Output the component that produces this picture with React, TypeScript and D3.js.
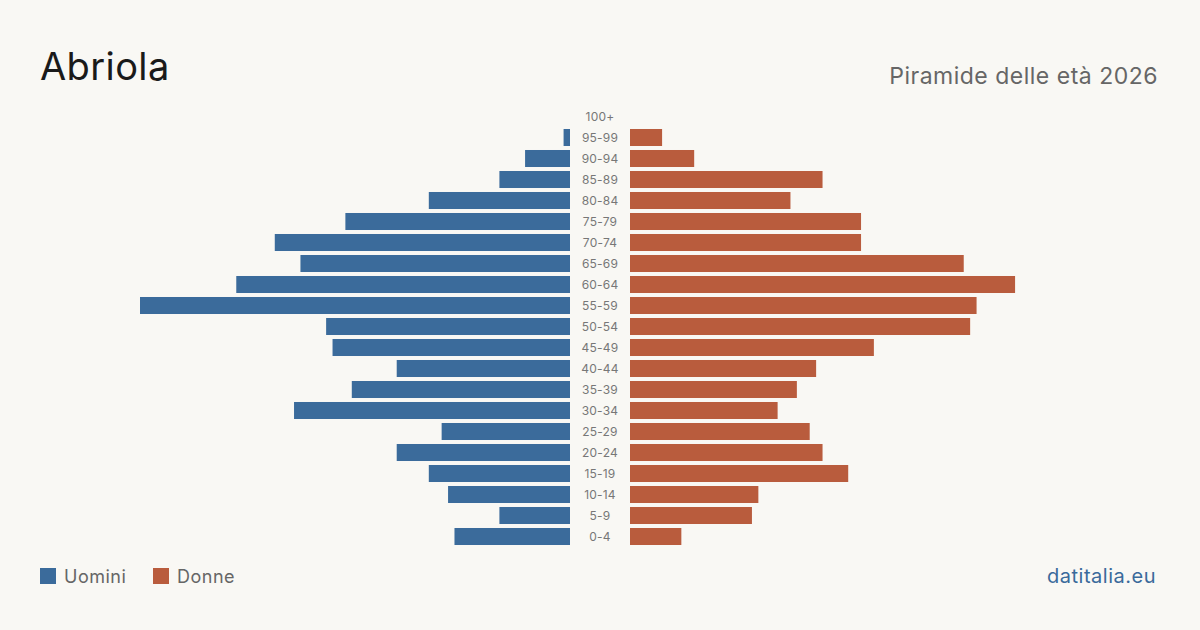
import * as d3 from "d3";
import { useEffect, useRef } from "react";

// fasce d'età, dall'alto verso il basso
const ageGroups = [
  "100+", "95-99", "90-94", "85-89", "80-84", "75-79", "70-74",
  "65-69", "60-64", "55-59", "50-54", "45-49", "40-44", "35-39",
  "30-34", "25-29", "20-24", "15-19", "10-14", "5-9", "0-4",
];
const men = [0, 1, 7, 11, 22, 35, 46, 42, 52, 67, 38, 37, 27, 34, 43, 20, 27, 22, 19, 11, 18];
const women = [0, 5, 10, 30, 25, 36, 36, 52, 60, 54, 53, 38, 29, 26, 23, 28, 30, 34, 20, 19, 8];

const W = 1200;
const H = 630;
const MALE = "#3b6b9b";
const FEMALE = "#b95c3d";
const FONT = "Inter, 'Noto Sans', sans-serif";

export default function App() {
  const svgRef = useRef<SVGSVGElement | null>(null);

  useEffect(() => {
    if (!svgRef.current) return;
    const svg = d3.select(svgRef.current);
    svg.selectAll("*").remove();

    svg.append("rect").attr("width", W).attr("height", H).attr("fill", "#f9f8f4");

    const centerX = 600;
    const gap = 30; // metà dello spazio per le etichette
    const maxVal = d3.max([...men, ...women]) ?? 1;

    const y = d3
      .scaleBand()
      .domain(ageGroups)
      .range([106, 547])
      .paddingInner(0.19)
      .paddingOuter(0.095);

    const xLen = d3.scaleLinear().domain([0, maxVal]).range([0, 430]);

    const rows = ageGroups.map((g, i) => ({ g, m: men[i], f: women[i] }));

    // barre uomini (verso sinistra)
    svg
      .append("g")
      .selectAll("rect")
      .data(rows)
      .enter()
      .append("rect")
      .attr("x", (d) => centerX - gap - xLen(d.m))
      .attr("y", (d) => y(d.g)!)
      .attr("width", (d) => xLen(d.m))
      .attr("height", y.bandwidth())
      .attr("fill", MALE);

    // barre donne (verso destra)
    svg
      .append("g")
      .selectAll("rect")
      .data(rows)
      .enter()
      .append("rect")
      .attr("x", centerX + gap)
      .attr("y", (d) => y(d.g)!)
      .attr("width", (d) => xLen(d.f))
      .attr("height", y.bandwidth())
      .attr("fill", FEMALE);

    // etichette fasce d'età
    svg
      .append("g")
      .selectAll("text")
      .data(ageGroups)
      .enter()
      .append("text")
      .attr("x", centerX)
      .attr("y", (d) => y(d)! + y.bandwidth() / 2)
      .attr("dy", "0.35em")
      .attr("text-anchor", "middle")
      .attr("font-family", FONT)
      .attr("font-size", 12)
      .attr("letter-spacing", 0.2)
      .attr("fill", "#777")
      .text((d) => d);

    // titolo e sottotitolo
    svg
      .append("text")
      .attr("x", 40)
      .attr("y", 80)
      .attr("font-family", FONT)
      .attr("font-size", 38)
      .attr("letter-spacing", 0.4)
      .attr("fill", "#1a1a1a")
      .text("Abriola");

    svg
      .append("text")
      .attr("x", 1158)
      .attr("y", 84)
      .attr("text-anchor", "end")
      .attr("font-family", FONT)
      .attr("font-size", 23)
      .attr("letter-spacing", 0.5)
      .attr("fill", "#666")
      .text("Piramide delle età 2026");

    // legenda
    const legend = [
      { label: "Uomini", color: MALE, x: 40 },
      { label: "Donne", color: FEMALE, x: 153 },
    ];
    const lg = svg
      .append("g")
      .selectAll("g")
      .data(legend)
      .enter()
      .append("g")
      .attr("transform", (d) => `translate(${d.x},568)`);
    lg.append("rect").attr("width", 16).attr("height", 16).attr("fill", (d) => d.color);
    lg.append("text")
      .attr("x", 24)
      .attr("y", 15)
      .attr("font-family", FONT)
      .attr("font-size", 18)
      .attr("letter-spacing", 0.5)
      .attr("fill", "#666")
      .text((d) => d.label);

    svg
      .append("text")
      .attr("x", 1156)
      .attr("y", 583)
      .attr("text-anchor", "end")
      .attr("font-family", FONT)
      .attr("font-size", 20)
      .attr("letter-spacing", 0.5)
      .attr("fill", "#3a6a9b")
      .text("datitalia.eu");
  }, []);

  return (
    <svg
      ref={svgRef}
      width={W}
      height={H}
      style={{ position: "absolute", left: 0, top: 0, display: "block" }}
    />
  );
}
